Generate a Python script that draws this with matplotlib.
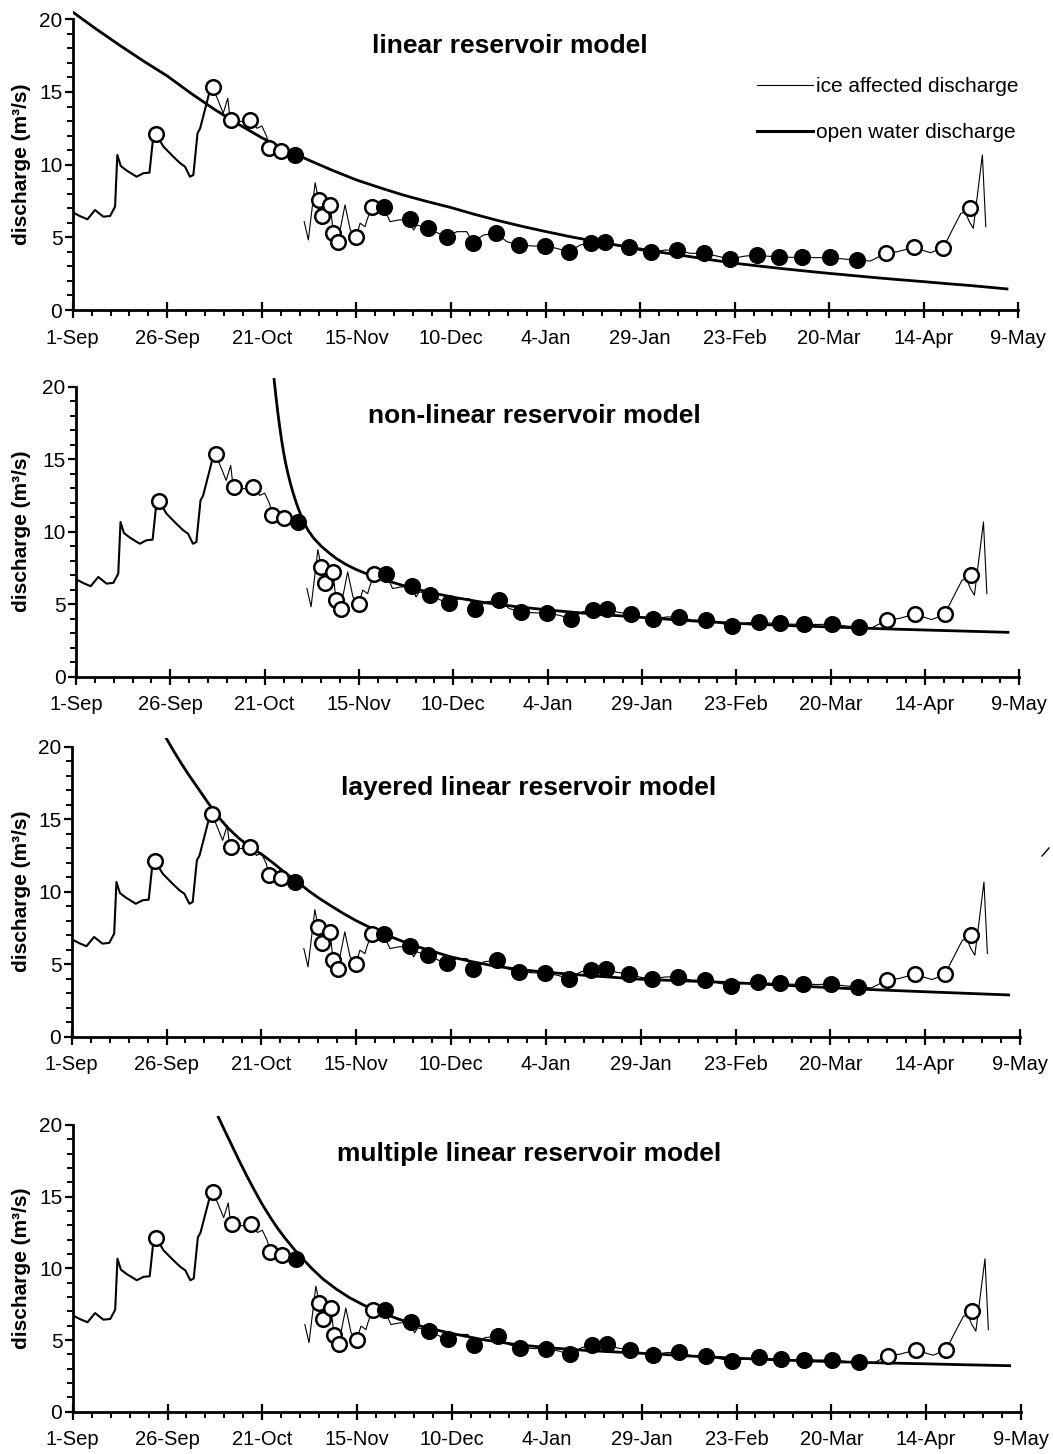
import numpy as np
import matplotlib
matplotlib.use("Agg")
import matplotlib.pyplot as plt
from matplotlib.lines import Line2D
from matplotlib.ticker import MultipleLocator, FixedLocator

plt.rcParams['font.family'] = ['Liberation Sans', 'DejaVu Sans']

# ---------------- data (day 0 = 1-Sep) ----------------
tick_days = [0, 25, 50, 75, 100, 125, 150, 175, 200, 225, 250]
tick_labels = ['1-Sep', '26-Sep', '21-Oct', '15-Nov', '10-Dec', '4-Jan',
               '29-Jan', '23-Feb', '20-Mar', '14-Apr', '9-May']

# open-water hydrograph (observed)
open_days = [0, 2, 3.9, 5.9, 8.1, 9.9, 11.2, 11.8, 12.7, 14.3, 16.9, 18.7, 20.3,
             21.2, 22.0, 24.0, 26.6, 28.4, 29.7, 31.0, 31.9, 33.0, 33.7, 36.3, 37.0]
open_q = [6.72, 6.45, 6.24, 6.88, 6.42, 6.47, 7.11, 10.67, 9.91, 9.59, 9.17, 9.41, 9.45,
          11.7, 12.1, 11.24, 10.55, 10.1, 9.86, 9.17, 9.29, 12.16, 12.5, 15.14, 15.35]

# ice-affected hydrograph (nan = gap in record)
ice_days = [37.0, 39.8, 41.0, 41.6, 41.9, 43.8, 45.5, 46.9, 48.0, 48.7, 50.0, 51.3, 52.0,
            53.5, 55.1, 57.0, 58.8, 60.0,
            61.2, 62.3, 64.1, 65.0, 65.9, 68.1, 68.9, 70.1, 72.0, 73.4, 74.9, 76.0, 77.3,
            77.8, 79.1, 82.2, 83.9, 86.1, 89.1, 90.1, 91.0, 93.9, 96.5, 98.9, 101.6, 104.2,
            105.8, 108.6, 112.0, 114.8, 117.9, 121.9, 124.9, 128.0, 131.1, 134.2, 136.9,
            140.8, 143.5, 147.0, 150.0, 152.9, 156.5, 159.8, 163.3, 167.0, 170.5, 173.9,
            177.5, 180.9, 183.8, 186.7, 189.8, 192.9, 196.6, 200.3, 204.0, 207.4, 210.9,
            214.9, 218.0, 222.4, 225.0, 226.8, 230.2, 232.1, 234.8, 236.0, 237.0, 238.1,
            240.5, 241.4]
ice_q = [15.35, 13.54, 14.57, 13.19, 13.08, 12.96, 13.0, 13.08, 12.8, 12.5, 12.66, 11.93, 11.17,
         11.0, 10.94, 10.8, 10.67, np.nan,
         6.08, 4.82, 8.76, 7.57, 6.47, 7.23, 5.32, 4.70, 7.23, 5.5, 5.02, 5.97, 5.73,
         6.19, 7.11, 7.07, 6.08, 6.19, 6.24, 5.5, 5.85, 5.62, 5.3, 5.05, 5.39, 5.39,
         4.64, 5.16, 5.28, 4.7, 4.47, 4.4, 4.40, 4.24, 4.01, 4.47, 4.63,
         4.70, 4.45, 4.31, 4.1, 3.98, 4.12, 4.13, 3.9, 3.90, 3.7, 3.51,
         3.7, 3.79, 3.7, 3.67, 3.62, 3.63, 3.6, 3.63, 3.5, 3.44, 3.37,
         3.90, 4.01, 4.31, 4.08, 3.94, 4.29, 5.28, 6.65, 6.75, 6.1, 5.62,
         10.67, 5.73]

# measurements: open-water (open circles) and under-ice (filled circles)
open_meas_days = [22.0, 37.0, 41.9, 46.9, 52.0, 55.1, 65.0, 65.9, 68.1, 68.9, 70.1, 74.9,
                  79.1, 214.9, 222.4, 230.2, 237.2]
open_meas_q = [12.1, 15.35, 13.08, 13.08, 11.17, 10.94, 7.57, 6.47, 7.23, 5.32, 4.70, 5.02,
               7.11, 3.90, 4.31, 4.29, 7.04]
ice_meas_days = [58.8, 82.2, 89.1, 93.9, 98.9, 105.8, 112.0, 117.9, 124.9, 131.1, 136.9,
                 140.8, 147.0, 152.9, 159.8, 167.0, 173.9, 180.9, 186.7, 192.9, 200.3, 207.4]
ice_meas_q = [10.67, 7.07, 6.24, 5.62, 5.05, 4.64, 5.28, 4.47, 4.40, 4.01, 4.63,
              4.70, 4.31, 3.98, 4.13, 3.90, 3.51, 3.79, 3.67, 3.63, 3.63, 3.44]

# model recession curves
titles = ['linear reservoir model', 'non-linear reservoir model',
          'layered linear reservoir model', 'multiple linear reservoir model']

linear_days = [0, 6.25, 12.5, 18.75, 25, 31.25, 37.5, 43.75, 50, 56.25, 62.5, 68.75, 75,
               81.25, 87.5, 93.75, 100, 106.25, 112.5, 118.75, 125, 131.25, 137.5, 143.75,
               150, 156.25, 162.5, 168.75, 175, 181.25, 187.5, 193.75, 200, 206.25, 212.5,
               218.75, 225, 231.25, 237.5, 247]
linear_q = [20.5, 19.32, 18.2, 17.12, 16.1, 14.91, 13.8, 12.79, 11.85, 11.05, 10.3, 9.6,
            8.95, 8.41, 7.9, 7.46, 7.05, 6.58, 6.15, 5.76, 5.4, 5.06, 4.75, 4.47,
            4.2, 3.94, 3.7, 3.45, 3.22, 3.03, 2.85, 2.68, 2.52, 2.37, 2.22,
            2.08, 1.95, 1.81, 1.68, 1.45]

nonlin_days = [52.5, 53.0, 53.5, 54.0, 54.5, 55.0, 55.5, 56.0, 56.75, 57.5, 58.5, 59.5, 60.5,
               61.5, 63.0, 65.0, 67.0, 69.0, 71.5, 74.0, 77.0, 80.0, 84.0, 88.5, 94.0, 100.0,
               108.0, 117.0, 126.0, 135.0, 144.0, 153.0, 164.0, 175.0, 187.0, 200.0, 212.0,
               225.0, 236.0, 247.0]
nonlin_q = [20.5, 19.3, 18.2, 17.2, 16.3, 15.5, 14.8, 14.2, 13.4, 12.7, 11.9, 11.2, 10.6,
            10.1, 9.55, 9.0, 8.55, 8.15, 7.75, 7.42, 7.1, 6.82, 6.5, 6.15, 5.8, 5.48,
            5.12, 4.82, 4.58, 4.37, 4.2, 4.03, 3.84, 3.68, 3.54, 3.43, 3.32,
            3.22, 3.14, 3.06]

layered_days = [25.0, 27.0, 29.0, 31.0, 33.0, 35.5, 38.2, 41.0, 44.0, 47.0, 50.5, 53.5,
                56.5, 59.7, 62.5, 65.5, 68.5, 71.6, 75.0, 78.5, 82.2, 86.0, 90.0, 95.0,
                100.0, 106.0, 112.0, 118.5, 125.0, 131.0, 137.0, 143.5, 150.0, 162.5,
                175.0, 187.5, 200.0, 212.5, 225.0, 236.0, 247.0]
layered_q = [20.55, 19.65, 18.8, 18.0, 17.25, 16.3, 15.3, 14.45, 13.7, 13.1, 12.5, 11.9,
             11.25, 10.65, 10.05, 9.5, 9.0, 8.5, 8.0, 7.55, 7.1, 6.7, 6.3, 5.9,
             5.5, 5.15, 4.85, 4.62, 4.45, 4.32, 4.2, 4.08, 3.96, 3.84,
             3.72, 3.55, 3.38, 3.23, 3.1, 2.99, 2.88]

multiple_days = [38.4, 40.0, 42.0, 44.0, 46.0, 48.0, 50.0, 52.0, 54.0, 56.0, 58.0, 60.0,
                 63.0, 66.0, 69.5, 73.0, 77.0, 81.0, 86.0, 92.0, 99.5, 108.0, 117.0,
                 126.0, 135.0, 143.5, 152.0, 163.0, 175.0, 187.5, 200.0, 212.5, 225.0,
                 236.0, 247.0]
multiple_q = [20.55, 19.65, 18.55, 17.45, 16.4, 15.4, 14.45, 13.6, 12.8, 12.1, 11.45, 10.85,
              10.0, 9.25, 8.55, 7.95, 7.4, 6.95, 6.45, 5.95, 5.48, 5.03, 4.68,
              4.45, 4.28, 4.16, 4.05, 3.88, 3.73, 3.6, 3.49, 3.41, 3.34,
              3.27, 3.21]

models = [(linear_days, linear_q), (nonlin_days, nonlin_q),
          (layered_days, layered_q), (multiple_days, multiple_q)]

# ---------------- layout ----------------
W, H = 1053, 1454
fig = plt.figure(figsize=(W / 100, H / 100), dpi=100)
YTOP = 20.6

# (x of 1-Sep, x of 9-May, y of 0, y of 20) in pixels
panel_px = [(72.7, 1018.3, 310.0, 19.3),
            (76.0, 1019.3, 676.7, 386.7),
            (71.7, 1020.0, 1036.7, 746.7),
            (72.7, 1021.0, 1411.7, 1125.0)]
title_px = [(371.7, 53.0), (368.3, 423.3), (340.7, 795.0), (337.3, 1160.7)]

for i, (x0, x1, y0, y20) in enumerate(panel_px):
    ppu = (y0 - y20) / 20.0
    top = y0 - YTOP * ppu
    ax = fig.add_axes([x0 / W, 1 - y0 / H, (x1 - x0) / W, (y0 - top) / H])
    ax.set_xlim(0, 250)
    ax.set_ylim(0, YTOP)
    for s in ('top', 'right'):
        ax.spines[s].set_visible(False)
    ax.spines['left'].set_bounds(0, 20)
    ax.spines['left'].set_linewidth(2.0)
    ax.spines['bottom'].set_linewidth(2.0)

    ax.xaxis.set_major_locator(FixedLocator(tick_days))
    ax.set_xticklabels(tick_labels)
    ax.xaxis.set_minor_locator(MultipleLocator(5))
    ax.yaxis.set_major_locator(FixedLocator([0, 5, 10, 15, 20]))
    ax.yaxis.set_minor_locator(MultipleLocator(1))
    ax.tick_params(axis='x', which='major', direction='inout', length=11, width=1.6,
                   labelsize=14.5, pad=8)
    ax.tick_params(axis='x', which='minor', direction='out', length=4, width=1.4)
    ax.tick_params(axis='y', which='major', direction='out', length=6, width=1.6,
                   labelsize=15, pad=1.5)
    ax.tick_params(axis='y', which='minor', direction='out', length=4, width=1.4)

    md, mq = models[i]
    ax.plot(md, mq, color='black', lw=2.0, zorder=2, solid_joinstyle='round')
    l_open, = ax.plot(open_days, open_q, color='black', lw=1.5, zorder=3,
                      label='open water discharge')
    l_ice, = ax.plot(ice_days, ice_q, color='black', lw=0.8, zorder=3,
                     label='ice affected discharge')
    ax.plot(open_meas_days, open_meas_q, 'o', ms=10.5, mfc='white', mec='black',
            mew=1.8, zorder=4)
    ax.plot(ice_meas_days, ice_meas_q, 'o', ms=10.5, mfc='black', mec='black',
            mew=1.8, zorder=4)

    tx, ty = title_px[i]
    fig.text(tx / W, 1 - ty / H, titles[i], fontsize=19, fontweight='bold',
             ha='left', va='baseline')
    fig.text(22 / W, 1 - ((y0 + y20) / 2) / H, 'discharge (m³/s)', fontsize=15,
             fontweight='bold', rotation=90, ha='center', va='center')

    if i == 0:
        legend_thick = Line2D([], [], color='black', lw=2.2)
        ax.legend([l_ice, legend_thick], ['ice affected discharge', 'open water discharge'],
                  loc='upper left', bbox_to_anchor=(757 / W, 1 - 77 / H),
                  bbox_transform=fig.transFigure, frameon=False, fontsize=15,
                  handlelength=2.7, handletextpad=0.15, labelspacing=1.3,
                  borderpad=0, borderaxespad=0)

# small scan mark at the right edge of the third panel
fig.add_artist(Line2D([1042 / W, 1049 / W], [1 - 856 / H, 1 - 848 / H],
                      color='black', lw=1.0, transform=fig.transFigure))

fig.savefig('out.png', dpi=100)
